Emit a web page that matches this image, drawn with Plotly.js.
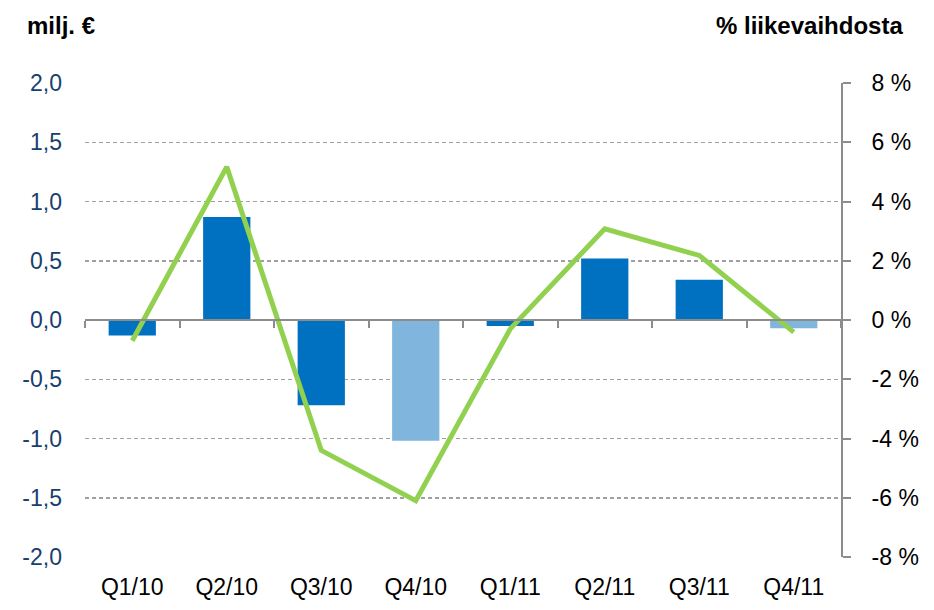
<!DOCTYPE html>
<html>
<head>
<meta charset="utf-8">
<script src="https://cdn.plot.ly/plotly-3.0.1.min.js"></script>
<style>html,body{margin:0;padding:0;background:#fff}#chart{width:934px;height:610px}</style>
</head>
<body>
<div id="chart"></div>
<script>
const categories = ['Q1/10','Q2/10','Q3/10','Q4/10','Q1/11','Q2/11','Q3/11','Q4/11'];
const resultMEUR = [-0.13, 0.87, -0.72, -1.02, -0.05, 0.52, 0.34, -0.07];
const barColors = ['#0070C0','#0070C0','#0070C0','#80B5DE','#0070C0','#0070C0','#0070C0','#80B5DE'];
const pctOfSales = [-0.7, 5.17, -4.4, -6.1, -0.3, 3.08, 2.18, -0.41];
const leftTickVals = [2, 1.5, 1, 0.5, 0, -0.5, -1, -1.5, -2];
const leftTickText = ['2,0','1,5','1,0','0,5','0,0','-0,5','-1,0','-1,5','-2,0'];
const rightTickVals = [8, 6, 4, 2, 0, -2, -4, -6, -8];
const rightTickText = ['8 %','6 %','4 %','2 %','0 %','-2 %','-4 %','-6 %','-8 %'];
const leftTitle = 'milj. €';
const rightTitle = '% liikevaihdosta';

const FONT = 'Liberation Sans, Arial, sans-serif';

const traces = [
  {
    type: 'bar', x: categories, y: resultMEUR, xaxis: 'x', yaxis: 'y',
    width: 0.5, marker: {color: barColors, line: {width: 0}},
    hoverinfo: 'skip'
  },
  {
    type: 'scatter', mode: 'lines', x: categories, y: pctOfSales, xaxis: 'x2', yaxis: 'y2',
    line: {color: '#92D050', width: 5, shape: 'linear'},
    hoverinfo: 'skip'
  }
];

const layout = {
  width: 934, height: 610,
  margin: {l: 85, r: 93, t: 83, b: 53},
  paper_bgcolor: '#ffffff', plot_bgcolor: '#ffffff',
  showlegend: false,
  font: {family: FONT, size: 23, color: '#000'},
  xaxis: {
    type: 'category', range: [-0.5, 7.5], categoryorder: 'array', categoryarray: categories,
    showline: false, ticks: '', showgrid: false, zeroline: false,
    ticklabelstandoff: 14,
    tickfont: {family: FONT, size: 23, color: '#000'}
  },
  xaxis2: {
    type: 'category', range: [-0.5, 7.5], categoryorder: 'array', categoryarray: categories,
    overlaying: 'x', anchor: 'free', position: 0.5,
    showline: true, linecolor: '#8c8c8c', linewidth: 2,
    ticks: 'outside', ticklen: 7, tickwidth: 2, tickcolor: '#8c8c8c', tickson: 'boundaries',
    showticklabels: false, showgrid: false, zeroline: false
  },
  yaxis: {
    range: [-2, 2], tickvals: leftTickVals, ticktext: leftTickText,
    showline: false, ticks: '', zeroline: false,
    showgrid: true, gridcolor: '#a0a0a0', gridwidth: 1.5, griddash: '4px,3px',
    ticklabelstandoff: 22,
    tickfont: {family: FONT, size: 23, color: '#17406D'}
  },
  yaxis2: {
    range: [-8, 8], tickvals: rightTickVals, ticktext: rightTickText,
    overlaying: 'y', side: 'right', anchor: 'x',
    showline: true, linecolor: '#8c8c8c', linewidth: 2,
    ticks: 'outside', ticklen: 8, tickwidth: 2, tickcolor: '#8c8c8c',
    showgrid: false, zeroline: false,
    ticklabelstandoff: 16,
    tickfont: {family: FONT, size: 23, color: '#000'}
  },
  annotations: [
    {text: '<b>' + leftTitle + '</b>', xref: 'paper', yref: 'paper', x: -0.0794, y: 1.122,
     xanchor: 'left', yanchor: 'middle', showarrow: false,
     font: {family: FONT, size: 24, color: '#000'}},
    {text: '<b>' + rightTitle + '</b>', xref: 'paper', yref: 'paper', x: 1.085, y: 1.122,
     xanchor: 'right', yanchor: 'middle', showarrow: false,
     font: {family: FONT, size: 24, color: '#000'}}
  ]
};

Plotly.newPlot('chart', traces, layout, {displayModeBar: false, staticPlot: true});
</script>
</body>
</html>
